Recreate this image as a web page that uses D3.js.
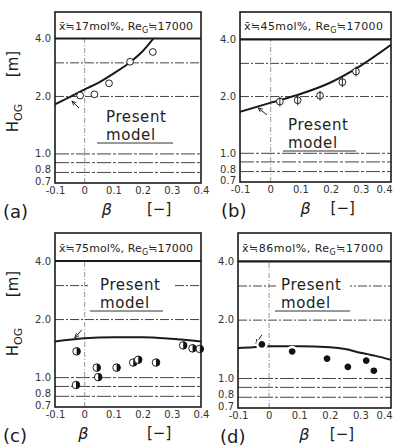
<!DOCTYPE html>
<html><head><meta charset="utf-8">
<script src="https://cdn.jsdelivr.net/npm/d3@7/dist/d3.min.js"></script>
<style>body{margin:0;background:#fff}svg{display:block}</style>
</head><body>
<svg id="c" width="393" height="448"></svg>
<script>
// ---------- data ----------
const betaTicks = [-0.1, 0, 0.1, 0.2, 0.3, 0.4];
const betaTickLabels = ["-0.1", "0", "0.1", "0.2", "0.3", "0.4"];
const hTicks = [0.7, 0.8, 1.0, 2.0, 4.0];
const hTickLabels = ["0.7", "0.8", "1.0", "2.0", "4.0"];
const hGrid = [0.8, 0.9, 1.0, 2.0, 3.0];
const panelLabels = ["(a)", "(b)", "(c)", "(d)"];
const compositions = ["17", "45", "75", "86"];
const reynolds = "17000";

// Present model curves
const modelA_beta = [-0.1, -0.05, 0, 0.05, 0.1, 0.15, 0.2, 0.24];
const modelA_h    = [1.81, 1.97, 2.16, 2.35, 2.62, 2.95, 3.43, 4.05];
const modelB_beta = [-0.1, 0, 0.1, 0.2, 0.3, 0.4];
const modelB_h    = [1.65, 1.84, 2.05, 2.36, 2.90, 3.74];
const modelC_beta = [-0.1, 0, 0.1, 0.2, 0.3, 0.4];
const modelC_h    = [1.53, 1.59, 1.61, 1.61, 1.58, 1.53];
const modelD_beta = [-0.1, -0.05, 0, 0.1, 0.2, 0.25, 0.3, 0.35, 0.4];
const modelD_h    = [1.43, 1.44, 1.46, 1.46, 1.44, 1.41, 1.35, 1.30, 1.24];

// Experimental points
const expA_beta = [-0.014, 0.035, 0.085, 0.157, 0.235];
const expA_h    = [2.01, 2.04, 2.33, 3.02, 3.40];
const expB_beta = [0.032, 0.091, 0.165, 0.239, 0.284];
const expB_h    = [1.87, 1.90, 2.01, 2.37, 2.70];
const expC_beta = [-0.026, -0.028, 0.043, 0.048, 0.111, 0.168, 0.185, 0.246, 0.339, 0.371, 0.396];
const expC_h    = [1.36, 0.91, 1.12, 1.00, 1.12, 1.19, 1.23, 1.19, 1.46, 1.41, 1.40];
const expD_beta = [-0.022, 0.077, 0.191, 0.259, 0.319, 0.344];
const expD_h    = [1.49, 1.37, 1.26, 1.14, 1.23, 1.09];

// arrow annotations (tail -> tip) in data units
const arrowA = [[-0.018, 1.73], [-0.042, 1.88]];
const arrowB = [[-0.011, 1.59], [-0.040, 1.73]];
const arrowC = [[-0.008, 1.76], [-0.032, 1.60]];
const arrowD = [[-0.022, 1.67], [-0.041, 1.50]];

// ---------- layout ----------
const panels = [
  {frame:{l:55, r:201, t:12, y4:38.5, b:183}, mb:modelA_beta, mh:modelA_h, eb:expA_beta, eh:expA_h, marker:"open", title:true,
   note:{x:106, y:122, ux1:97, ux2:173, bg:false}, arrow:arrowA, title2:{h:118, m:64}, capX:{lab:3, beta:0.06, unit:0.215}},
  {frame:{l:240, r:391, t:12, y4:39.3, b:182}, mb:modelB_beta, mh:modelB_h, eb:expB_beta, eh:expB_h, marker:"phi", title:false,
   note:{x:288, y:130, ux1:283, ux2:356, bg:false}, arrow:arrowB, capX:{lab:221, beta:0.1, unit:0.2}},
  {frame:{l:55, r:201, t:233, y4:261, b:407}, mb:modelC_beta, mh:modelC_h, eb:expC_beta, eh:expC_h, marker:"half", title:true,
   note:{x:100, y:290, ux1:90, ux2:163, bg:true, bx1:88, bx2:175}, arrow:arrowC, title2:{h:342, m:284}, capX:{lab:3, beta:-0.02, unit:0.215}},
  {frame:{l:238, r:391, t:233, y4:261.3, b:408}, mb:modelD_beta, mh:modelD_h, eb:expD_beta, eh:expD_h, marker:"filled", title:false,
   note:{x:281, y:290, ux1:275, ux2:350, bg:true, bx1:276, bx2:350}, arrow:arrowD, capX:{lab:220, beta:0.1, unit:0.2}}
];

const svg = d3.select("#c");
const FONT = "'DejaVu Sans', 'Liberation Sans', sans-serif";
const ink = "#1a1a1a";

svg.append("defs").append("marker")
  .attr("id","ah").attr("viewBox","0 0 10 10").attr("refX",9).attr("refY",5)
  .attr("markerWidth",5).attr("markerHeight",5).attr("orient","auto")
  .append("path").attr("d","M0,1 L9,5 L0,9").attr("fill","none").attr("stroke",ink).attr("stroke-width",1.6);

panels.forEach((p, i) => {
  const f = p.frame;
  const g = svg.append("g");
  const x = d3.scaleLinear().domain([-0.1, 0.4]).range([f.l, f.r]);
  const y = d3.scaleLog().domain([0.7, 4.0]).range([f.b, f.y4]);

  // horizontal grid lines
  const gy = g.append("g").attr("transform", `translate(${f.l},0)`)
    .call(d3.axisLeft(y).tickValues(hGrid).tickSize(-(f.r - f.l)).tickFormat(""));
  gy.select(".domain").remove();
  gy.selectAll("line").attr("stroke", "#444").attr("stroke-width", 1)
    .attr("stroke-dasharray", (d) => d >= 2 ? "9,2,2,2" : "14,2,3,2");

  // vertical grid at beta = 0
  const gx = g.append("g").attr("transform", `translate(0,${f.b})`)
    .call(d3.axisBottom(x).tickValues([0]).tickSize(-(f.b - f.y4)).tickFormat(""));
  gx.select(".domain").remove();
  gx.selectAll("line").attr("stroke", "#777").attr("stroke-width", 0.8).attr("stroke-dasharray", "5,2,1,2");

  // "Present model" label
  const n = p.note;
  if (n.bg) {
    g.append("rect").attr("x", n.bx1).attr("y", n.y - 13).attr("width", n.bx2 - n.bx1).attr("height", 17).attr("fill", "#fff");
  }
  g.append("text").attr("x", n.x).attr("y", n.y).text("Present")
    .attr("font-family", FONT).attr("font-size", 15).attr("fill", "#222").attr("letter-spacing", 0.6);
  g.append("text").attr("x", n.x).attr("y", n.y + 18).text("model")
    .attr("font-family", FONT).attr("font-size", 15).attr("fill", "#222").attr("letter-spacing", 0.6);
  g.append("line").attr("x1", n.ux1).attr("x2", n.ux2).attr("y1", n.y + 21).attr("y2", n.y + 21)
    .attr("stroke", "#333").attr("stroke-width", 1);

  // model curve (clipped to plot area)
  const cid = "clip" + i;
  svg.append("clipPath").attr("id", cid).append("rect")
    .attr("x", f.l).attr("y", f.y4).attr("width", f.r - f.l).attr("height", f.b - f.y4);
  const line = d3.line().x(d => x(d[0])).y(d => y(d[1])).curve(d3.curveMonotoneX);
  g.append("path").datum(p.mb.map((b, k) => [b, p.mh[k]]))
    .attr("clip-path", `url(#${cid})`)
    .attr("d", line).attr("fill", "none").attr("stroke", ink).attr("stroke-width", 2);

  // arrow
  g.append("line")
    .attr("x1", x(p.arrow[0][0])).attr("y1", y(p.arrow[0][1]))
    .attr("x2", x(p.arrow[1][0])).attr("y2", y(p.arrow[1][1]))
    .attr("stroke", ink).attr("stroke-width", 1).attr("marker-end", "url(#ah)");

  // experimental points
  const pts = p.eb.map((b, k) => [b, p.eh[k]]);
  const mg = g.append("g").selectAll("g").data(pts).join("g")
    .attr("transform", d => `translate(${x(d[0])},${y(d[1])})`);
  if (p.marker === "open") {
    mg.append("circle").attr("r", 3.4).attr("fill", "#fff").attr("stroke", "#222").attr("stroke-width", 1);
  } else if (p.marker === "phi") {
    mg.append("circle").attr("r", 3.4).attr("fill", "#fff").attr("stroke", "#222").attr("stroke-width", 1);
    mg.append("line").attr("y1", -5).attr("y2", 5).attr("stroke", "#222").attr("stroke-width", 1);
  } else if (p.marker === "half") {
    mg.append("circle").attr("r", 3.8).attr("fill", "#fff").attr("stroke", "#222").attr("stroke-width", 1);
    mg.append("path").attr("d", d3.arc()({innerRadius: 0, outerRadius: 3.8, startAngle: 0, endAngle: Math.PI}))
      .attr("fill", "#111");
  } else {
    mg.append("circle").attr("r", 4.6).attr("fill", "#111").attr("stroke", "#fff").attr("stroke-width", 2.5);
  }

  // frame and header line
  g.append("rect").attr("x", f.l).attr("y", f.t).attr("width", f.r - f.l).attr("height", f.b - f.t)
    .attr("fill", "none").attr("stroke", ink).attr("stroke-width", 1.6);
  g.append("line").attr("x1", f.l).attr("x2", f.r).attr("y1", f.y4).attr("y2", f.y4)
    .attr("stroke", ink).attr("stroke-width", 2.2);

  // header text
  const ht = g.append("text").attr("x", f.l + 4).attr("y", f.y4 - 9)
    .attr("font-family", FONT).attr("font-size", 11).attr("fill", "#222")
    .attr("textLength", (f.r - f.l) - 12).attr("lengthAdjust", "spacing");
  ht.append("tspan").text(`x\u0304\u2252${compositions[i]}mol%, Re`);
  ht.append("tspan").attr("font-size", 8).attr("dy", 3).text("G");
  ht.append("tspan").attr("dy", -3).text(`\u2252${reynolds}`);

  // y tick labels
  const ya = g.append("g").attr("transform", `translate(${f.l},0)`)
    .call(d3.axisLeft(y).tickValues(hTicks).tickSize(0).tickPadding(4)
      .tickFormat((d, k) => hTickLabels[k]));
  ya.select(".domain").remove();
  ya.selectAll("text").attr("font-family", FONT).attr("font-size", 10).attr("fill", "#333")
    .attr("dy", d => d === 0.7 ? "0.15em" : (d === 0.8 ? "0.1em" : "0.32em"));

  // x tick labels
  const xa = g.append("g").attr("transform", `translate(0,${f.b})`)
    .call(d3.axisBottom(x).tickValues(betaTicks).tickSize(0).tickPadding(4)
      .tickFormat((d, k) => betaTickLabels[k]));
  xa.select(".domain").remove();
  xa.selectAll("text").attr("font-family", FONT).attr("font-size", 10).attr("fill", "#333");
  if (f.r > 380) {
    xa.selectAll("text").filter(d => d === 0.4).attr("text-anchor", "end").attr("dx", "0.1em");
  }

  // axis captions
  const cap = f.b + 35;
  const c = p.capX;
  g.append("text").attr("x", c.lab).attr("y", cap)
    .attr("font-family", FONT).attr("font-size", 18).attr("fill", ink).text(panelLabels[i]);
  g.append("text").attr("x", x(c.beta)).attr("y", cap - 3)
    .attr("font-family", FONT).attr("font-style", "italic").attr("font-size", 16).attr("fill", ink).text("\u03b2");
  g.append("text").attr("x", x(c.unit)).attr("y", cap - 4)
    .attr("font-family", FONT).attr("font-size", 15).attr("fill", ink).text("[\u2212]");

  // y title
  if (p.title) {
    const t2 = p.title2;
    const th = g.append("text").attr("transform", `translate(18,${t2.h}) rotate(-90)`)
      .attr("text-anchor", "middle").attr("font-family", FONT).attr("font-size", 15).attr("fill", ink);
    th.append("tspan").text("H");
    th.append("tspan").attr("font-size", 11).attr("dy", 4).text("OG");
    g.append("text").attr("transform", `translate(18,${t2.m}) rotate(-90)`)
      .attr("text-anchor", "middle").attr("font-family", FONT).attr("font-size", 15).attr("fill", ink).text("[m]");
  }
});
</script>
</body></html>
